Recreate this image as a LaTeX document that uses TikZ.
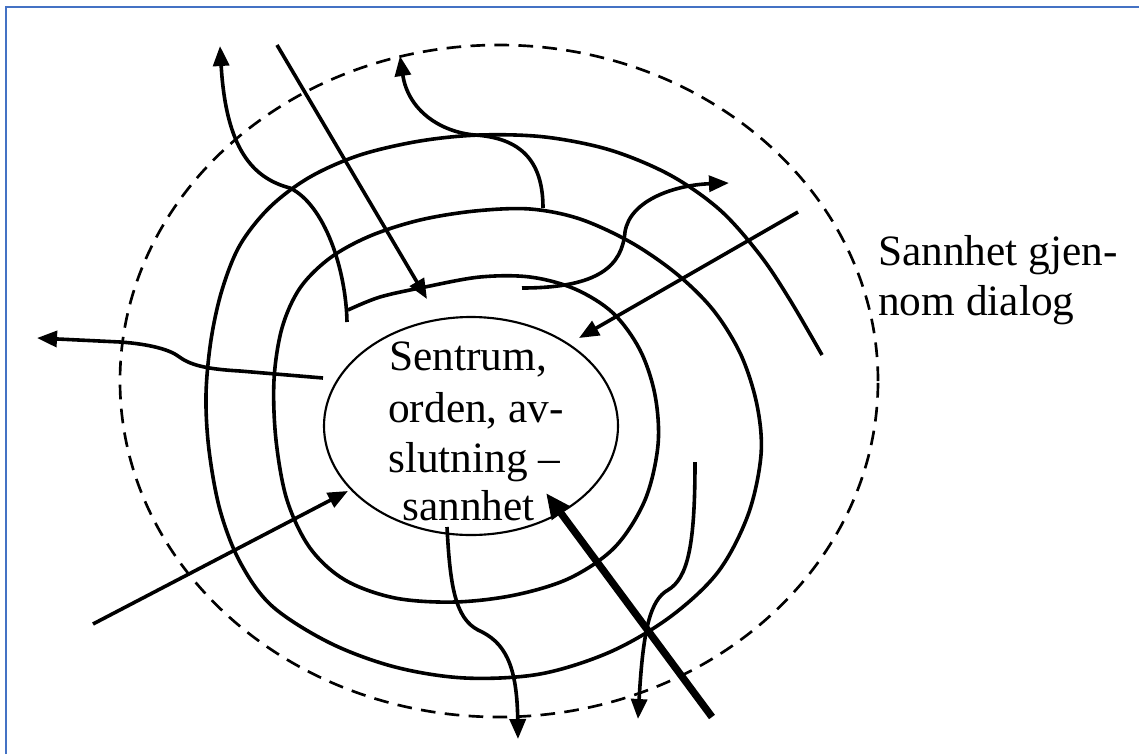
\documentclass[tikz,border=0pt]{standalone}
\usepackage{fontspec}
\setmainfont{Liberation Serif}
\usetikzlibrary{arrows.meta,shapes.geometric}
\definecolor{frameblue}{RGB}{68,114,196}
\begin{document}
\begin{tikzpicture}[x=0.75pt,y=-0.75pt,
  curve/.style={line width=2.7pt, line join=round},
  arr/.style={curve, -{Triangle[length=15pt,width=12pt]}},
  bigarr/.style={line width=5.5pt, -{Triangle[length=19pt,width=16pt]}},
  dashring/.style={line width=2pt, dash pattern=on 11pt off 7pt},
  txt/.style={font=\fontsize{32.5}{39}\selectfont, inner sep=0pt, anchor=base west}]
\useasboundingbox (0,0) rectangle (1139,754);
\fill[white] (0,0) rectangle (1139,754);
\draw[frameblue, line width=1.6pt] (6,754) -- (6,7) -- (1139,7);

% outer dashed boundary and the centre
\node[draw, ellipse, dashring, minimum width=568.5pt, minimum height=504pt, inner sep=0pt] (dialog) at (499,381) {};
\node[draw, ellipse, line width=1.6pt, minimum width=220.5pt, minimum height=163.5pt, inner sep=0pt] (core) at (471,426) {};

% spiral
\draw[curve] plot[smooth, tension=0.55] coordinates {
 (822,355) (790,300) (760,255) (720,210) (670,175) (610,150) (545,137) (480,135)
 (420,141) (360,155) (310,177) (270,207) (240,245) (222,290) (211,340) (206,395)
 (209,450) (220,510) (240,562) (272,606) (330,643) (395,667) (465,678) (540,674)
 (610,652) (670,617) (718,572) (748,515) (761,455) (757,405) (741,355) (714,311)
 (678,275) (632,243) (580,219) (530,209) (475,211) (420,220) (370,236) (330,258)
 (300,288) (282,328) (274,380) (276,440) (287,500) (310,548) (345,580) (395,598)
 (455,602) (515,595) (570,578) (615,547) (645,500) (658,445) (655,395) (640,350)
 (613,313) (575,289) (530,277) (480,277) (425,287) (380,297) (348,310)};

% named end points
\coordinate (a1s) at (347,322);  \coordinate (a1e) at (220,46);
\coordinate (a2s) at (277,45);   \coordinate (a2e) at (427,299);
\coordinate (a3s) at (543,208);  \coordinate (a3e) at (400,56);
\coordinate (a4s) at (522,288);  \coordinate (a4e) at (729,183);
\coordinate (a5s) at (798,212);  \coordinate (a5e) at (579,338);
\coordinate (a6s) at (323,378);  \coordinate (a6e) at (37,338);
\coordinate (a7s) at (93,624);   \coordinate (a7e) at (348,491);
\coordinate (a8s) at (447,527);  \coordinate (a8e) at (518,739);
\coordinate (a9s) at (695,462);  \coordinate (a9e) at (638,719);
\coordinate (a10s) at (712,717); \coordinate (a10e) at (546,493);

% arrows
\draw[arr] (a1s) .. controls (346,270) and (325,205) .. (290,188)
            .. controls (252,178) and (226,148) .. (a1e);
\draw[arr] (a2s) -- (a2e);
\draw[arr] (a3s) .. controls (543,160) and (520,138) .. (475,135)
            .. controls (440,132) and (408,110) .. (a3e);
\draw[arr] (a4s) .. controls (600,288) and (622,265) .. (625,232)
            .. controls (630,200) and (675,185) .. (a4e);
\draw[arr] (a5s) -- (a5e);
\draw[arr] (a6s) -- (240,371) .. controls (205,369) and (190,365) .. (178,356)
            .. controls (170,350) and (150,344) .. (120,342) -- (a6e);
\draw[arr] (a7s) -- (a7e);
\draw[arr] (a8s) .. controls (450,585) and (455,618) .. (478,630)
            .. controls (505,642) and (517,665) .. (a8e);
\draw[arr] (a9s) .. controls (695,545) and (688,578) .. (668,590)
            .. controls (650,600) and (643,630) .. (a9e);
\draw[bigarr] (a10s) -- (a10e);

% texts
\node[txt] (t1) at (389,370) {Sentrum,};
\node[txt] (t2) at (388,422) {orden, av-};
\node[txt] (t3) at (388,472) {slutning –};
\node[txt] (t4) at (402,520) {sannhet};
\node[txt] (r1) at (878,265) {Sannhet gjen-};
\node[txt] (r2) at (878,315) {nom dialog};
\end{tikzpicture}
\end{document}
